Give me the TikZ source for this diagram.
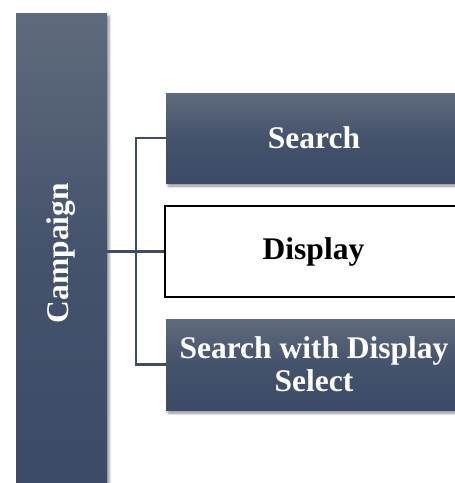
\documentclass[tikz,border=0pt]{standalone}
\usepackage{fontspec}
\setmainfont{Liberation Serif}
\usetikzlibrary{shadows.blur}
\definecolor{boxtop}{HTML}{5F6B7C}
\definecolor{boxmid}{HTML}{44526C}
\definecolor{boxbot}{HTML}{3C4B66}
\definecolor{linecol}{HTML}{3E4C66}
\tikzset{
  darkbox/.style={rectangle, inner sep=0pt, top color=boxtop, bottom color=boxbot, middle color=boxmid,
    blur shadow={shadow xshift=2pt, shadow yshift=-3pt, shadow blur radius=2.5pt, shadow opacity=45},
    text=white, font=\bfseries\fontsize{31.5}{33}\selectfont, align=center},
  whitebox/.style={rectangle, inner sep=0pt, fill=white, draw=black, line width=2pt,
    font=\bfseries\fontsize{31.5}{33}\selectfont, align=center},
  conn/.style={draw=linecol, line width=2.5pt}
}
\begin{document}
\begin{tikzpicture}[x=1pt, y=-1pt]
\useasboundingbox (0,0) rectangle (455,483);
\clip (0,0) rectangle (455,483);
\node[darkbox, minimum width=91pt, minimum height=480pt] (campaign) at (61.5,253) {};
\node[text=white, font=\bfseries\fontsize{31.5}{33}\selectfont, rotate=90] (camptext) at (61.5,253) {Campaign};
\node[darkbox, minimum width=296pt, minimum height=90pt] (search) at (314,138) {Search};
\node[whitebox, minimum width=297pt, minimum height=91pt] (display) at (313.5,251.5) {Display};
\node[darkbox, minimum width=296pt, minimum height=91pt] (swds) at (314,364.5) {Search with Display\\Select};
\coordinate (bus) at (136,251.5);
\draw[conn] (search.west) -| (bus) |- (swds.west);
\draw[conn] (campaign.east |- display.west) -- (display.west);
\end{tikzpicture}
\end{document}
